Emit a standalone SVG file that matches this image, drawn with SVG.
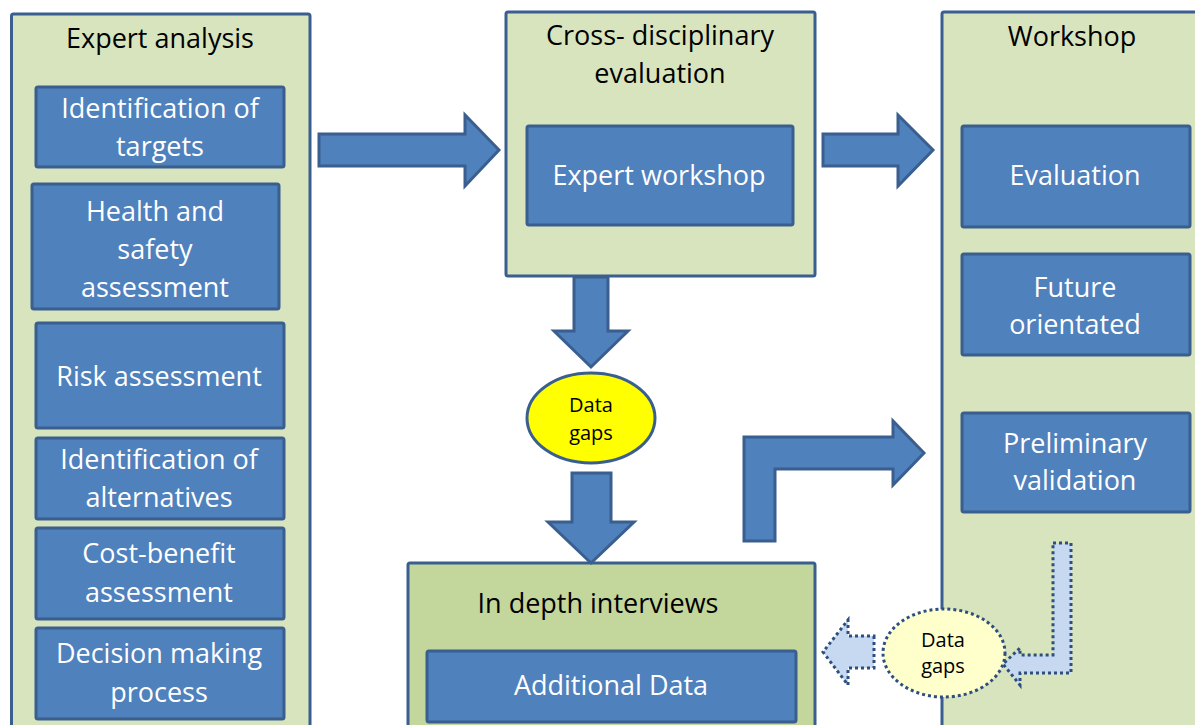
<svg xmlns="http://www.w3.org/2000/svg" width="1195" height="725" viewBox="0 0 1195 725">
  <style>
    .panel { fill: #d7e4bd; stroke: #3a5f8f; stroke-width: 3; }
    .panel-dark { fill: #c3d69b; stroke: #3a5f8f; stroke-width: 3; }
    .box { fill: #4f81bd; stroke: #3a5f8f; stroke-width: 3; }
    .arrow { fill: #4f81bd; stroke: #3a5f8f; stroke-width: 3; stroke-linejoin: miter; }
    .dotted { fill: #c6d9f1; stroke: #2c4f80; stroke-width: 3; stroke-dasharray: 3 3; }
    .gap { fill: #ffff00; stroke: #3a5f8f; stroke-width: 3; }
    .gap-soft { fill: #ffffcc; stroke: #2c4f80; stroke-width: 3; stroke-dasharray: 3 3; }
    text { font-family: "Open Sans", "Liberation Sans", sans-serif; text-anchor: middle; }
    .title { font-size: 27px; fill: #000000; }
    .label { font-size: 27px; fill: #ffffff; }
    .small { font-size: 20px; fill: #000000; }
  </style>

  <!-- Expert analysis column -->
  <g id="expert-analysis">
    <rect class="panel" x="11.5" y="14" width="298.5" height="730" rx="2"/>
    <text class="title" x="160" y="48">Expert analysis</text>
  </g>
  <g id="identification-targets">
    <rect class="box" x="36" y="87" width="248" height="80" rx="2"/>
    <text class="label" x="160" y="118">Identification of</text>
    <text class="label" x="160" y="156">targets</text>
  </g>
  <g id="health-safety">
    <rect class="box" x="32" y="184" width="247" height="125" rx="2"/>
    <text class="label" x="155" y="221">Health and</text>
    <text class="label" x="155" y="259">safety</text>
    <text class="label" x="155" y="297">assessment</text>
  </g>
  <g id="risk-assessment">
    <rect class="box" x="36" y="323" width="248" height="105" rx="2"/>
    <text class="label" x="159" y="386">Risk assessment</text>
  </g>
  <g id="identification-alternatives">
    <rect class="box" x="36" y="438" width="248" height="81" rx="2"/>
    <text class="label" x="159" y="469">Identification of</text>
    <text class="label" x="159" y="507">alternatives</text>
  </g>
  <g id="cost-benefit">
    <rect class="box" x="36" y="528" width="248" height="91" rx="2"/>
    <text class="label" x="159" y="563">Cost-benefit</text>
    <text class="label" x="159" y="602">assessment</text>
  </g>
  <g id="decision-making">
    <rect class="box" x="36" y="628" width="248" height="91" rx="2"/>
    <text class="label" x="159" y="663">Decision making</text>
    <text class="label" x="159" y="702">process</text>
  </g>

  <!-- Cross-disciplinary evaluation -->
  <g id="cross-disciplinary">
    <rect class="panel" x="506" y="12" width="309" height="264" rx="2"/>
    <text class="title" x="660" y="45">Cross- disciplinary</text>
    <text class="title" x="660" y="83">evaluation</text>
  </g>
  <g id="expert-workshop">
    <rect class="box" x="527" y="126" width="266" height="99" rx="2"/>
    <text class="label" x="659" y="185">Expert workshop</text>
  </g>

  <!-- Workshop column -->
  <g id="workshop">
    <rect class="panel" x="942" y="12" width="280" height="730" rx="2"/>
    <text class="title" x="1072" y="46">Workshop</text>
  </g>
  <g id="evaluation">
    <rect class="box" x="962" y="126" width="228" height="101" rx="2"/>
    <text class="label" x="1075" y="185">Evaluation</text>
  </g>
  <g id="future-orientated">
    <rect class="box" x="962" y="254" width="228" height="101" rx="2"/>
    <text class="label" x="1075" y="297">Future</text>
    <text class="label" x="1075" y="334">orientated</text>
  </g>
  <g id="preliminary-validation">
    <rect class="box" x="962" y="413" width="228" height="99" rx="2"/>
    <text class="label" x="1075" y="453">Preliminary</text>
    <text class="label" x="1075" y="490">validation</text>
  </g>

  <!-- In depth interviews -->
  <g id="in-depth-interviews">
    <rect class="panel-dark" x="408" y="563" width="407" height="180" rx="2"/>
    <text class="title" x="598" y="613">In depth interviews</text>
  </g>
  <g id="additional-data">
    <rect class="box" x="427" y="651" width="369" height="71" rx="2"/>
    <text class="label" x="611" y="695">Additional Data</text>
  </g>

  <!-- Connectors -->
  <g id="connectors">
    <!-- expert analysis to cross-disciplinary evaluation -->
    <polygon class="arrow" points="319,134 465,134 465,115 499,150 465,186 465,166 319,166"/>
    <!-- cross-disciplinary evaluation to workshop -->
    <polygon class="arrow" points="823,134 898,134 898,115 933,150 898,186 898,166 823,166"/>
    <!-- evaluation down to data gaps -->
    <polygon class="arrow" points="574,277 608,277 608,331 628,331 591,367 554,331 574,331"/>
    <!-- data gaps down to interviews -->
    <polygon class="arrow" points="572,473 611,473 611,522 634,522 591,563 548,522 572,522"/>
    <!-- interviews up and across to preliminary validation -->
    <polygon class="arrow" points="744,541 744,437 893,437 893,421 924,453 893,485 893,469 775,469 775,541"/>
    <!-- preliminary validation back to secondary data gaps -->
    <polygon class="dotted" points="1053,543 1071,543 1071,673 1020,673 1020,685 1003,664 1020,648 1020,655 1053,655"/>
    <!-- secondary data gaps to interviews -->
    <polygon class="dotted" points="874,636 874,668 848,668 848,685 823,652 848,620 848,636"/>
  </g>

  <g id="data-gaps">
    <ellipse class="gap" cx="591" cy="418" rx="64" ry="45"/>
    <text class="small" x="591" y="412">Data</text>
    <text class="small" x="591" y="440">gaps</text>
  </g>
  <g id="data-gaps-secondary">
    <ellipse class="gap-soft" cx="944" cy="653" rx="61" ry="44"/>
    <text class="small" x="943" y="647">Data</text>
    <text class="small" x="943" y="673">gaps</text>
  </g>
</svg>
